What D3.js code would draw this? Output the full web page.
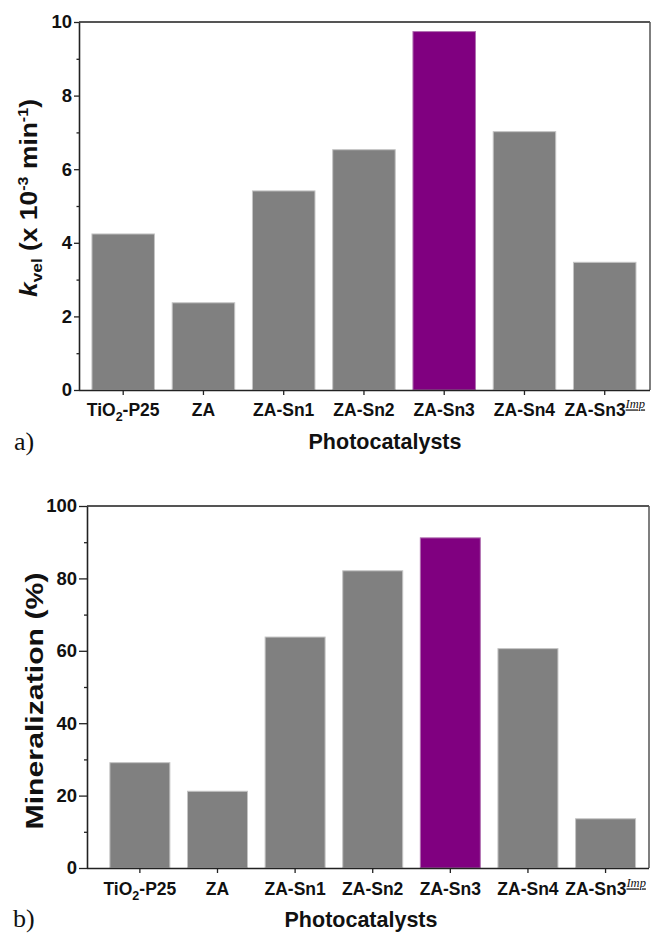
<!DOCTYPE html>
<html><head><meta charset="utf-8">
<script src="https://cdn.jsdelivr.net/npm/d3@7"></script>
<style>body{margin:0;background:#fff} svg{display:block}</style>
</head><body>
<script>
// ---- data ----
const categories = ["TiO2-P25", "ZA", "ZA-Sn1", "ZA-Sn2", "ZA-Sn3", "ZA-Sn4", "ZA-Sn3Imp"];
const rateValues = [4.24, 2.37, 5.41, 6.53, 9.74, 7.02, 3.47];          // k_vel (x10^-3 min^-1)
const mineralValues = [29.1, 21.2, 63.8, 82.1, 91.2, 60.6, 13.6];       // Mineralization (%)
const rateTicks = [0, 2, 4, 6, 8, 10];
const rateMinorTicks = [1, 3, 5, 7, 9];
const mineralTicks = [0, 20, 40, 60, 80, 100];
const mineralMinorTicks = [10, 30, 50, 70, 90];
const highlighted = "ZA-Sn3";
const xTitle = "Photocatalysts";

const W = 652, H = 933;
const FONT = "'Liberation Sans', Arial, Helvetica, sans-serif";
const GRAY = "#808080", PURPLE = "#800080";

const svg = d3.select("body").append("svg").attr("width", W).attr("height", H)
  .style("font-family", FONT);

function labelParts(c) {
  if (c === "TiO2-P25") return [{t: "TiO"}, {t: "2", sub: true}, {t: "-P25"}];
  if (c === "ZA-Sn3Imp") return [{t: "ZA-Sn3"}, {t: "Imp", sup: true}];
  return [{t: c}];
}

function panel(cfg) {
  const {left, right, top, bottom, values, ticks, minor, domain, majorLen, minorLen,
         padInner, padOuter, align, tickFs, labelOffset, titleY, titleX, panelLabel, plx, ply} = cfg;
  const g = svg.append("g");
  const x = d3.scaleBand().domain(categories).range([left, right])
    .paddingInner(padInner).paddingOuter(padOuter).align(align);
  const y = d3.scaleLinear().domain(domain).range([bottom, top]);

  // bars
  g.selectAll("rect.bar").data(categories.map((c, i) => ({c, v: values[i]})))
    .join("rect").attr("class", "bar")
    .attr("x", d => x(d.c)).attr("width", x.bandwidth())
    .attr("y", d => y(d.v)).attr("height", d => y(0) - y(d.v))
    .attr("fill", d => d.c === highlighted ? PURPLE : GRAY)
    .attr("stroke", d => d.c === highlighted ? "#b070b0" : "#c4c4c4")
    .attr("stroke-width", 1);

  // frame top & right
  g.append("line").attr("x1", left).attr("x2", right).attr("y1", top).attr("y2", top)
    .attr("stroke", "#555").attr("stroke-width", 2);
  g.append("line").attr("x1", right).attr("x2", right).attr("y1", top).attr("y2", bottom)
    .attr("stroke", "#555").attr("stroke-width", 1.5);

  // y minor ticks
  const ym = g.append("g").attr("transform", `translate(${left},0)`)
    .call(d3.axisLeft(y).tickValues(minor).tickSize(minorLen).tickFormat(""));
  ym.select(".domain").remove();
  // y major
  const ya = g.append("g").attr("transform", `translate(${left},0)`)
    .call(d3.axisLeft(y).tickValues(ticks).tickSize(majorLen).tickPadding(2).tickSizeOuter(0));
  ya.selectAll("text").attr("font-size", 18.5).attr("font-weight", "bold").attr("fill", "#111")
    .attr("font-family", FONT);
  [ym, ya].forEach(a => { a.selectAll("line").attr("stroke", "#222").attr("stroke-width", 1.3);
                          a.select(".domain").attr("stroke", "#222").attr("stroke-width", 1.6); });

  // x axis
  const xa = g.append("g").attr("transform", `translate(0,${bottom})`)
    .call(d3.axisBottom(x).tickSize(5).tickSizeOuter(0).tickPadding(labelOffset));
  xa.select(".domain").attr("stroke", "#222").attr("stroke-width", 1.6)
    .attr("d", `M${left},0.5H${right}`);
  xa.selectAll("line").attr("stroke", "#222").attr("stroke-width", 1.3);
  xa.selectAll(".tick text").each(function(c) {
    const t = d3.select(this).text(null).attr("font-size", tickFs).attr("font-weight", "bold")
      .attr("fill", "#111").attr("font-family", FONT);
    labelParts(c).forEach(p => {
      const s = t.append("tspan").text(p.t);
      if (p.sub) { s.attr("font-size", 12.5).attr("dy", 5); }
      else if (p.sup) { s.attr("font-size", 12.5).attr("dy", -8).attr("font-style", "italic")
          .attr("font-weight", "normal").attr("font-family", "'Liberation Serif', serif")
          .attr("text-decoration", "underline"); }
      else if (t.selectAll("tspan").size() > 1) { s.attr("dy", -5); }
    });
  });

  // x title
  g.append("text").attr("x", titleX).attr("y", titleY).attr("text-anchor", "middle")
    .attr("font-size", 21.5).attr("font-weight", "bold").attr("fill", "#111").text(xTitle);

  // panel label
  g.append("text").attr("x", plx).attr("y", ply).attr("font-family", "'Liberation Serif', 'Times New Roman', serif")
    .attr("font-size", 26).attr("fill", "#111").text(panelLabel);
  return g;
}

function yTitle(g, cx, cy, len, build) {
  const t = g.append("text").attr("text-anchor", "middle").attr("font-size", 23)
    .attr("font-weight", "bold").attr("fill", "#111");
  build(t);
  const w = t.node().getComputedTextLength();
  t.attr("transform", `translate(${cx},${cy}) rotate(-90) scale(${len / w},1)`);
}

const g1 = panel({left: 79, right: 650, top: 22, bottom: 390, values: rateValues, ticks: rateTicks,
  minor: rateMinorTicks, domain: [0, 10], majorLen: 5, minorLen: 2.5, padInner: 0.221, padOuter: 0.168,
  align: 0.48, tickFs: 17.5, labelOffset: 9, titleY: 449, titleX: 385, panelLabel: "a)", plx: 14, ply: 450});
yTitle(g1, 37, 198, 198, t => {
  t.append("tspan").text("k").attr("font-style", "italic");
  t.append("tspan").text("vel").attr("font-size", 15).attr("dy", 5);
  t.append("tspan").text(" (x 10").attr("dy", -5);
  t.append("tspan").text("-3").attr("font-size", 14).attr("dy", -9);
  t.append("tspan").text(" min").attr("dy", 9);
  t.append("tspan").text("-1").attr("font-size", 14).attr("dy", -9);
  t.append("tspan").text(")").attr("dy", 9);
});

const g2 = panel({left: 87, right: 649, top: 506, bottom: 868, values: mineralValues, ticks: mineralTicks,
  minor: mineralMinorTicks, domain: [0, 100], majorLen: 8, minorLen: 3, padInner: 0.227, padOuter: 0.234,
  align: 0.63, tickFs: 17.5, labelOffset: 10, titleY: 927, titleX: 361, panelLabel: "b)", plx: 13, ply: 927});
yTitle(g2, 43, 701, 257, t => { t.text("Mineralization (%)"); });
</script>
</body></html>
